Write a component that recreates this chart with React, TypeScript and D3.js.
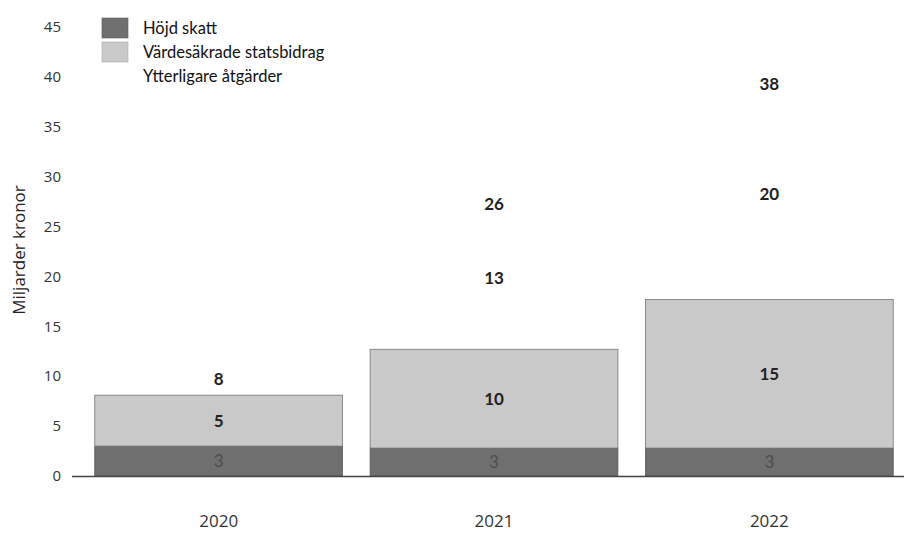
import React from "react";
import * as d3 from "d3";

const years = ["2020", "2021", "2022"];
const hojdSkatt = [3.0, 2.8, 2.8];
const vardesakrade = [5.1, 9.9, 14.9];
const ytterligare = [0, 13.0, 20.0];
const hojdLabels = ["3", "3", "3"];
const vardeLabels = ["5", "10", "15"];
const ytterLabels = ["", "13", "20"];
const totalLabels = ["8", "26", "38"];
const yTicks = [0, 5, 10, 15, 20, 25, 30, 35, 40, 45];
const seriesNames = ["Höjd skatt", "Värdesäkrade statsbidrag", "Ytterligare åtgärder"];
const seriesColors = ["#6f6f6f", "#c9c9c9", "#ffffff"];

const W = 904;
const H = 534;

export default function App() {
  const x = d3.scaleBand<string>().domain(years).range([81, 907]).paddingInner(0.1).paddingOuter(0.05);
  const y = d3.scaleLinear().domain([0, 45]).range([476, 27]);

  const rows = years.map((yr, i) => ({
    year: yr,
    h: hojdSkatt[i],
    v: vardesakrade[i],
    t: ytterligare[i],
  }));
  const stack = d3.stack<any>().keys(["h", "v", "t"]);
  const layers = stack(rows);
  const segLabels = [hojdLabels, vardeLabels, ytterLabels];
  const labelColors = ["#4d4d4d", "#222", "#222"];

  const font = "'Open Sans', 'DejaVu Sans', sans-serif";
  const legendFont = "Lato, 'Open Sans', sans-serif";

  return (
    <svg width={W} height={H} style={{ display: "block", position: "absolute", left: 0, top: 0, background: "#fff" }}>
      <rect width={W} height={H} fill="#fff" />
      {/* y ticks */}
      {yTicks.map((t) => (
        <text key={t} x={61} y={y(t)} dy="0.35em" textAnchor="end" fontFamily={font} fontSize={15} fill="#333">
          {t}
        </text>
      ))}
      <text
        transform={`translate(19,${250}) rotate(-90)`}
        textAnchor="middle"
        dy="0.35em"
        fontFamily={font}
        fontSize={17}
        fill="#222"
      >
        Miljarder kronor
      </text>

      {/* bars */}
      {layers.map((layer, li) =>
        layer.map((d, i) =>
          li === 2 ? null : (
            <rect
              key={`${li}-${i}`}
              x={x(years[i])!}
              y={y(d[1])}
              width={x.bandwidth()}
              height={y(d[0]) - y(d[1])}
              fill={seriesColors[li]}
              stroke={li === 1 ? "#777" : "#5a5a5a"}
              strokeWidth={0.8}
            />
          )
        )
      )}

      {/* baseline */}
      <line x1={72} x2={904} y1={y(0) + 0.5} y2={y(0) + 0.5} stroke="#444" strokeWidth={1.5} />

      {/* segment labels */}
      {layers.map((layer, li) =>
        layer.map((d, i) =>
          segLabels[li][i] ? (
            <text
              key={`l-${li}-${i}`}
              x={x(years[i])! + x.bandwidth() / 2}
              y={y((d[0] + d[1]) / 2) + (li === 2 ? -6 : 0)}
              dy="0.35em"
              textAnchor="middle"
              fontFamily={legendFont}
              fontWeight={li === 0 ? 400 : 700}
              fontSize={17}
              fill={labelColors[li]}
            >
              {segLabels[li][i]}
            </text>
          ) : null
        )
      )}

      {/* totals */}
      {rows.map((r, i) => (
        <text
          key={`t-${i}`}
          x={x(r.year)! + x.bandwidth() / 2}
          y={y(r.h + r.v + r.t) - 16}
          dy="0.35em"
          textAnchor="middle"
          fontFamily={legendFont}
          fontWeight={700}
          fontSize={17}
          fill="#222"
        >
          {totalLabels[i]}
        </text>
      ))}

      {/* x labels */}
      {years.map((yr) => (
        <text
          key={yr}
          x={x(yr)! + x.bandwidth() / 2}
          y={521}
          dy="0.35em"
          textAnchor="middle"
          fontFamily={font}
          fontSize={17}
          fill="#333"
        >
          {yr}
        </text>
      ))}

      {/* legend */}
      {seriesNames.map((n, i) => (
        <g key={n} transform={`translate(102,${18 + i * 24})`}>
          <rect width={26} height={20} fill={seriesColors[i]} stroke={i === 2 ? "none" : i === 0 ? "#5a5a5a" : "#aaa"} strokeWidth={0.6} />
          <text x={41} y={10} dy="0.35em" fontFamily={legendFont} fontSize={16.5} fill="#111">
            {n}
          </text>
        </g>
      ))}
    </svg>
  );
}
